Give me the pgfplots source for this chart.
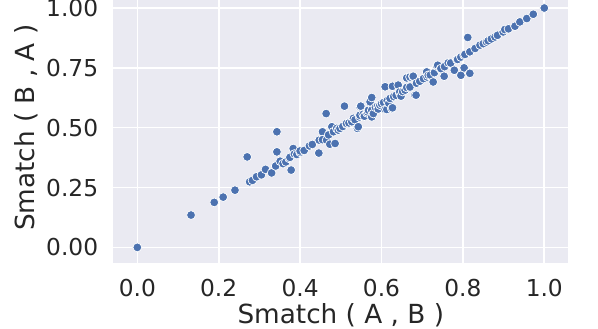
\documentclass[border=0pt]{standalone}
\usepackage{fontspec}
\setmainfont{DejaVu Sans}
\usepackage{pgfplots}
\pgfplotsset{compat=1.18}
\definecolor{sbbg}{HTML}{EAEAF2}
\definecolor{sbblue}{HTML}{4C72B0}
\definecolor{sbtext}{HTML}{262626}

\pgfplotstableread{
x y
0 0
0.132 0.135
0.189 0.188
0.211 0.21
0.24 0.239
0.27 0.378
0.276 0.274
0.283 0.28
0.293 0.295
0.305 0.303
0.315 0.326
0.33 0.311
0.34 0.34
0.343 0.399
0.343 0.483
0.351 0.36
0.358 0.35
0.365 0.357
0.373 0.372
0.375 0.376
0.378 0.323
0.383 0.413
0.386 0.39
0.392 0.388
0.4 0.397
0.4 0.403
0.41 0.405
0.423 0.424
0.43 0.43
0.446 0.394
0.447 0.448
0.455 0.483
0.455 0.45
0.464 0.559
0.465 0.448
0.473 0.431
0.47 0.47
0.478 0.504
0.482 0.483
0.486 0.434
0.49 0.497
0.494 0.49
0.498 0.497
0.505 0.505
0.509 0.59
0.514 0.515
0.514 0.518
0.52 0.52
0.527 0.525
0.531 0.539
0.535 0.533
0.541 0.497
0.543 0.504
0.546 0.545
0.547 0.587
0.547 0.552
0.549 0.59
0.555 0.556
0.558 0.548
0.564 0.562
0.566 0.566
0.568 0.573
0.572 0.604
0.572 0.608
0.576 0.626
0.576 0.545
0.576 0.573
0.58 0.559
0.585 0.585
0.59 0.59
0.592 0.578
0.596 0.597
0.596 0.594
0.6 0.6
0.605 0.605
0.609 0.671
0.609 0.576
0.613 0.576
0.614 0.613
0.618 0.602
0.621 0.622
0.625 0.58
0.627 0.673
0.627 0.583
0.63 0.63
0.636 0.635
0.641 0.678
0.645 0.643
0.645 0.65
0.648 0.632
0.652 0.651
0.658 0.657
0.662 0.668
0.662 0.708
0.67 0.712
0.67 0.67
0.677 0.715
0.678 0.715
0.682 0.636
0.685 0.636
0.686 0.686
0.694 0.694
0.703 0.705
0.711 0.733
0.712 0.712
0.715 0.719
0.72 0.72
0.727 0.691
0.73 0.73
0.736 0.757
0.738 0.761
0.745 0.745
0.746 0.747
0.754 0.715
0.755 0.755
0.764 0.771
0.77 0.77
0.779 0.74
0.785 0.785
0.787 0.785
0.795 0.719
0.795 0.795
0.803 0.75
0.803 0.803
0.805 0.806
0.812 0.877
0.817 0.727
0.817 0.817
0.83 0.831
0.842 0.845
0.85 0.851
0.858 0.858
0.862 0.863
0.87 0.871
0.879 0.879
0.885 0.886
0.899 0.9
0.903 0.91
0.912 0.913
0.928 0.924
0.94 0.942
0.957 0.956
0.973 0.974
1.0 1.0
}\smatch

\begin{document}
\begin{tikzpicture}
\useasboundingbox (0,0) rectangle (598pt,329pt);
\clip (0,0) rectangle (598pt,329pt);
\begin{axis}[
  at={(113.3pt,66.3pt)}, anchor=south west,
  scale only axis,
  width=455pt, height=270pt,
  xmin=-0.059, xmax=1.059,
  ymin=-0.064, ymax=1.064,
  xtick={0,0.2,0.4,0.6,0.8,1.0},
  ytick={0,0.25,0.5,0.75,1.0},
  axis background/.style={fill=sbbg},
  axis line style={draw=none},
  major tick length=0pt,
  grid=major,
  grid style={draw=white, line width=1.6pt},
  /pgf/number format/assume math mode=true,
  xticklabel style={/pgf/number format/fixed, /pgf/number format/fixed zerofill, /pgf/number format/precision=1},
  yticklabel style={/pgf/number format/fixed, /pgf/number format/fixed zerofill, /pgf/number format/precision=2},
  x tick label style={font=\fontsize{23.3}{28}\selectfont, text=sbtext, inner sep=0pt, anchor=north, yshift=-16.6pt},
  y tick label style={font=\fontsize{23.3}{28}\selectfont, text=sbtext, inner sep=0pt, anchor=east, xshift=-15pt},
  xlabel={Smatch ( A , B )},
  ylabel={Smatch ( B , A )},
  xlabel style={font=\fontsize{26.3}{30}\selectfont, text=sbtext, inner sep=0pt, at={(axis description cs:0.5,0)}, anchor=base, yshift=-60.5pt},
  ylabel style={font=\fontsize{26.3}{30}\selectfont, text=sbtext, inner sep=0pt, at={(axis description cs:0,0.5)}, anchor=base, yshift=78.3pt},
]
\addplot[only marks, mark=*, mark size=4.4pt, mark options={fill=sbblue, draw=white, line width=0.7pt}] table[x=x, y=y] {\smatch};
\end{axis}
\end{tikzpicture}
\end{document}
